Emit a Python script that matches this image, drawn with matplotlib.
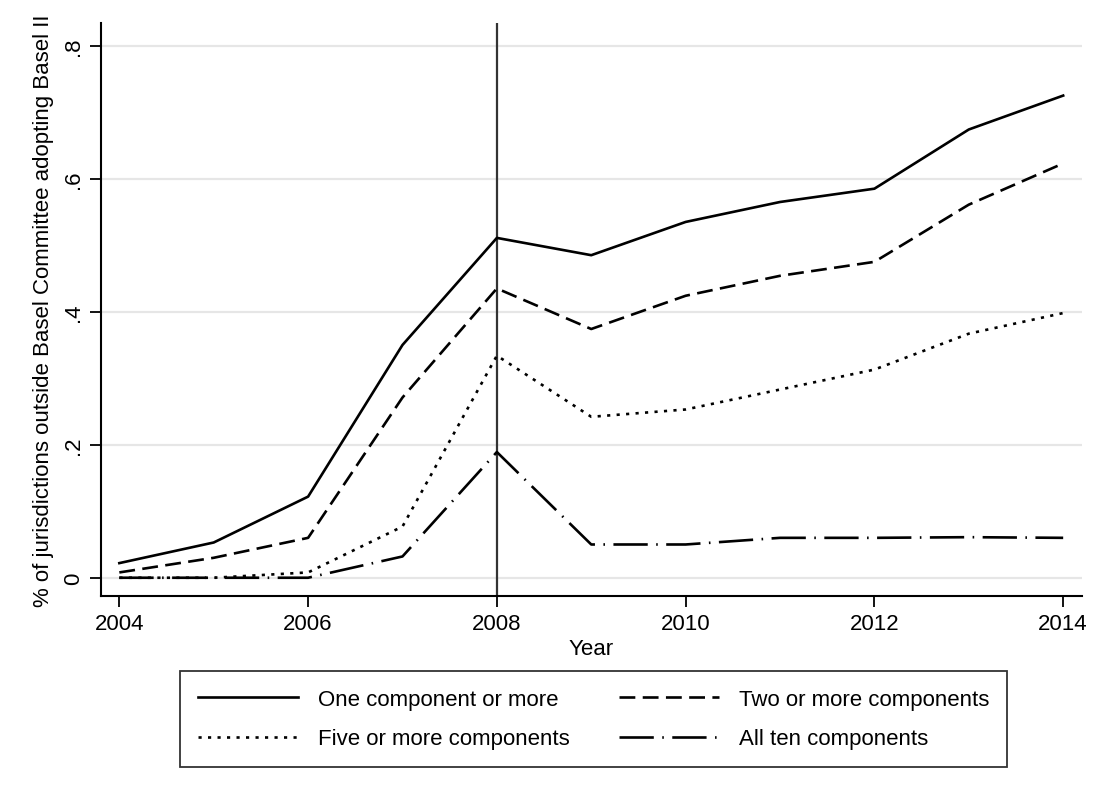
import matplotlib
matplotlib.use("Agg")
import matplotlib.pyplot as plt
import numpy as np

plt.rcParams['font.family'] = ['Liberation Sans', 'DejaVu Sans']

years = [2004, 2005, 2006, 2007, 2008, 2009, 2010, 2011, 2012, 2013, 2014]
one_or_more = [0.022, 0.053, 0.122, 0.350, 0.511, 0.485, 0.535, 0.565, 0.585, 0.674, 0.725]
two_or_more = [0.008, 0.030, 0.060, 0.271, 0.435, 0.374, 0.424, 0.454, 0.475, 0.561, 0.623]
five_or_more = [0.0, 0.0, 0.008, 0.077, 0.334, 0.242, 0.253, 0.283, 0.313, 0.367, 0.398]
all_ten = [0.0, 0.0, 0.0, 0.032, 0.189, 0.050, 0.050, 0.060, 0.060, 0.061, 0.060]

labels = ["One component or more", "Two or more components",
          "Five or more components", "All ten components"]
yticks = [0, 0.2, 0.4, 0.6, 0.8]
ytick_labels = ["0", ".2", ".4", ".6", ".8"]
xticks = [2004, 2006, 2008, 2010, 2012, 2014]

FS = 16

fig = plt.figure(figsize=(11.09, 8.03), dpi=100)
ax = fig.add_axes([0.0911, 0.2565, 0.9757 - 0.0911, 0.970 - 0.2565])

lw = 1.9
for y in yticks:
    ax.axhline(y, color='#e6e6e6', lw=1.6, zorder=0)
ax.axvline(2008, color='#333333', lw=1.6, zorder=1)

h1, = ax.plot(years, one_or_more, color='black', lw=lw, linestyle='-')
h2, = ax.plot(years, two_or_more, color='black', lw=lw, linestyle=(0, (6, 2.8)))
h3, = ax.plot(years, five_or_more, color='black', lw=lw, linestyle=(0, (1.2, 2.4)))
h4, = ax.plot(years, all_ten, color='black', lw=lw, linestyle=(0, (13, 3.2, 0.6, 3.2)))

ax.set_xlim(2003.806, 2014.2)
ax.set_ylim(-0.0275, 0.834)
ax.set_xticks(xticks)
ax.set_yticks(yticks)
ax.set_yticklabels(ytick_labels, rotation=90, va='center')
ax.tick_params(axis='both', direction='out', length=8, width=1.3, labelsize=FS, color='black')
ax.tick_params(axis='y', pad=4)
ax.tick_params(axis='x', pad=4)
for s in ['top', 'right']:
    ax.spines[s].set_visible(False)
for s in ['left', 'bottom']:
    ax.spines[s].set_linewidth(1.5)
ax.set_xlabel("Year", fontsize=FS, labelpad=3)
ax.set_ylabel("% of jurisdictions outside Basel Committee adopting Basel II", fontsize=FS, labelpad=7)

# matplotlib fills legend column-wise; order handles so rows read as in the reference
handles = [h1, h3, h2, h4]
leg_labels = [labels[0], labels[2], labels[1], labels[3]]
leg = fig.legend(handles, leg_labels, loc='center', ncol=2,
                 bbox_to_anchor=(0.5352, 0.1034), fontsize=FS, frameon=True,
                 fancybox=False, edgecolor='black', handlelength=4.5,
                 handletextpad=0.9, columnspacing=2.2, labelspacing=0.85,
                 borderpad=0.8, borderaxespad=0)
leg.get_frame().set_linewidth(1.3)

fig.savefig("out.png", dpi=100, facecolor='white')
